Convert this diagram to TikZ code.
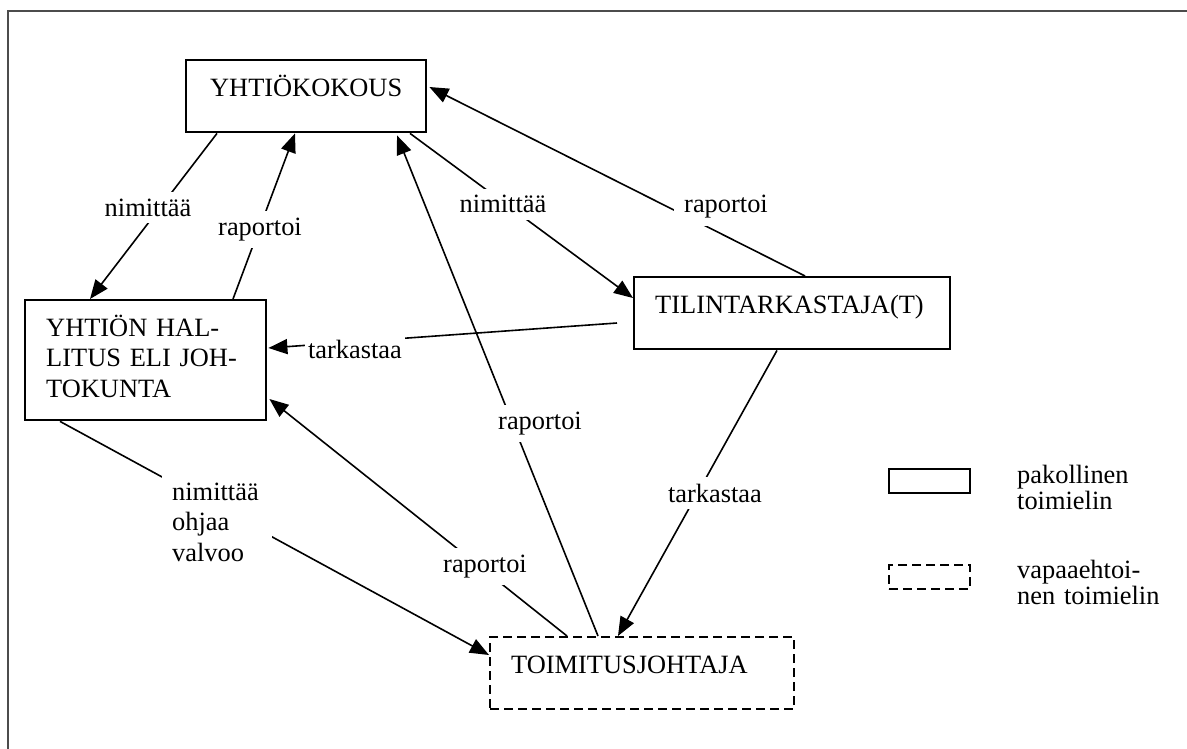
\documentclass[tikz,border=0pt]{standalone}
\usepackage{fontspec}
\setmainfont{Liberation Serif}
\usetikzlibrary{arrows.meta,calc}
\begin{document}
\begin{tikzpicture}[x=1pt,y=-1pt,
  every node/.style={font=\fontsize{26.4}{30.5}\selectfont},
  organ/.style={draw, line width=2.4pt, anchor=north west, align=left,
    inner xsep=21pt, inner ysep=0pt, text height=36pt},
  optorgan/.style={organ, dash pattern=on 9pt off 5pt},
  legbox/.style={draw, line width=2.4pt, anchor=north west, inner sep=0pt,
    minimum width=81pt, minimum height=24pt},
  legtext/.style={anchor=base west, inner sep=0pt, align=left, text width=170pt,
    font=\fontsize{26.4}{26.5}\selectfont},
  conn/.style={line width=1.6pt},
  arr/.style={conn, -{Triangle[length=19pt,width=15pt]}},
  lbl/.style={fill=white, inner xsep=10pt, inner ysep=7pt, anchor=base},
  frameline/.style={draw=black!70, line width=2pt}]
\useasboundingbox (0,0) rectangle (1187,749);
\draw[frameline] (8,749) -- (8,11) -- (1187,11);

% organs
\node[organ, text width=198pt, text depth=36pt, align=center] (yk) at (185,59) {YHTIÖKOKOUS};
\node[organ, text width=199pt, text depth=84pt] (hall) at (24,299)
  {YHTIÖN HAL-\\LITUS ELI JOH-\\TOKUNTA};
\node[organ, text width=274pt, text depth=36pt] (tilin) at (633,276) {TILINTARKASTAJA(T)};
\node[optorgan, text width=262pt, text depth=36pt] (toim) at (489,636) {TOIMITUSJOHTAJA};

\coordinate (t5) at (617,323);

% connectors
\draw[arr] ($(yk.south west)+(32,0)$) -- ($(hall.north west)+(66,0)$);
\draw[arr] ($(hall.north west)+(209,0)$) -- ($(yk.south west)+(110,0)$);
\draw[arr] ($(yk.south west)+(225,0)$) -- ($(tilin.north west)+(0,22)$);
\draw[arr] ($(tilin.north west)+(172,0)$) -- ($(yk.north east)+(2,28)$);
\draw[arr] (t5) -- ($(hall.north east)+(1,49)$);
\draw[arr] ($(toim.north west)+(78,0)$) -- ($(hall.north east)+(2,100)$);
\draw[arr] ($(toim.north west)+(109,0)$) -- ($(yk.south west)+(212,2)$);
\draw[arr] ($(hall.south west)+(36,0)$) -- ($(toim.north west)+(0,19)$);
\draw[arr] ($(tilin.south west)+(144,0)$) -- ($(toim.north west)+(129,0)$);

% labels
\node[lbl] (l1) at (148,216) {nimittää};
\node[lbl] (l2) at (260,235) {raportoi};
\node[lbl] (l3) at (503,213) {nimittää};
\node[lbl] (l4) at (726,213) {raportoi};
\node[lbl, inner xsep=3pt] (l5) at (355,358) {tarkastaa\hspace{22pt}};
\node[lbl] (l6) at (540,429) {raportoi};
\node[lbl] (l7) at (485,572) {raportoi};
\node[lbl, anchor=base west, align=left, text width=90pt] (l8) at (162,500) {nimittää\\ohjaa\\valvoo};
\node[lbl] (l9) at (715,502) {tarkastaa};

% legend
\node[legbox] (lg1) at (888,468) {};
\node[legbox, dash pattern=on 9pt off 5pt] (lg2) at (888,564) {};
\node[legtext] (lt1) at (1017,483) {pakollinen\\toimielin};
\node[legtext] (lt2) at (1017,578) {vapaaehtoi-\\nen toimielin};
\end{tikzpicture}
\end{document}
